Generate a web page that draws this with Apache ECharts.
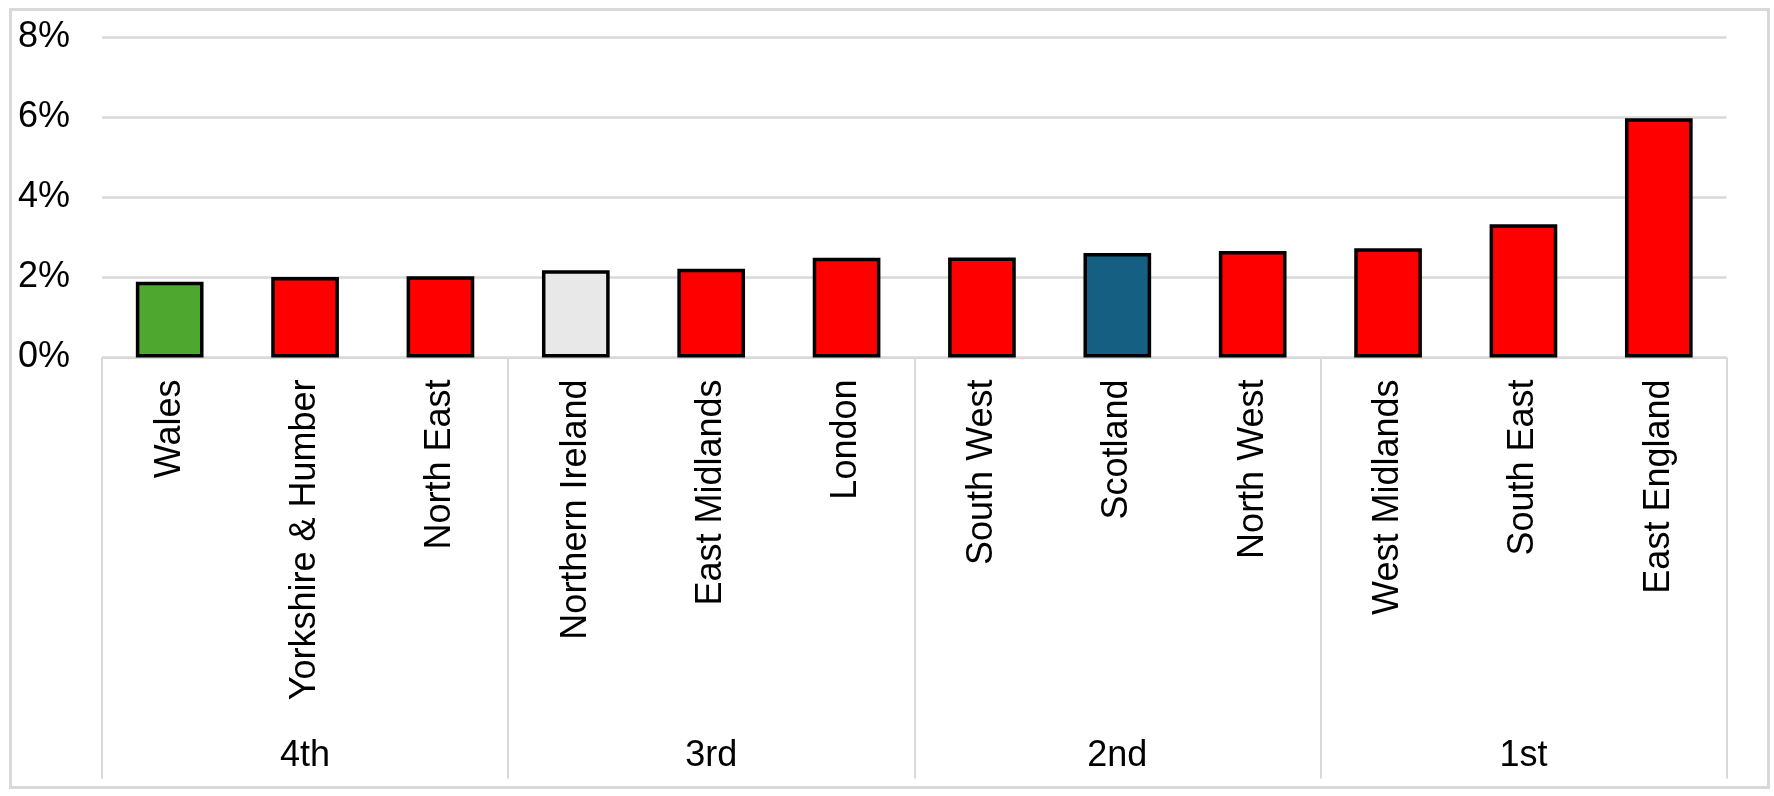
<!DOCTYPE html>
<html>
<head>
<meta charset="utf-8">
<script src="https://cdn.jsdelivr.net/npm/echarts@6/dist/echarts.min.js"></script>
<style>
html,body{margin:0;padding:0;background:#fff;}
#c{width:1774px;height:796px;}
</style>
</head>
<body>
<div id="c"></div>
<script>
// ---- data ----
var regions = ['Wales','Yorkshire & Humber','North East','Northern Ireland','East Midlands','London','South West','Scotland','North West','West Midlands','South East','East England'];
var values = [1.89, 2.01, 2.03, 2.18, 2.22, 2.49, 2.50, 2.61, 2.66, 2.73, 3.33, 5.98];
var groups = ['4th','3rd','2nd','1st'];
var yTicks = [0, 2, 4, 6, 8];
// ---- styles ----
var barColors = ['#4EA72E','#FF0000','#FF0000','#E8E8E8','#FF0000','#FF0000','#FF0000','#156082','#FF0000','#FF0000','#FF0000','#FF0000'];

var FONT = 'Liberation Sans, Arial, sans-serif';
var chart = echarts.init(document.getElementById('c'), null, {renderer:'canvas'});
chart.setOption({
  animation: false,
  backgroundColor: '#fff',
  textStyle: {fontFamily: FONT},
  graphic: [{
    type: 'rect', left: 8, top: 7, silent: true, z: -1,
    shape: {x: 0, y: 0, width: 1758, height: 778},
    style: {fill: 'none', stroke: '#d9d9d9', lineWidth: 3}
  }],
  grid: {left: 102, right: 47.5, top: 37.3, bottom: 438.5, containLabel: false},
  xAxis: [{
    type: 'category',
    data: regions,
    position: 'bottom',
    axisLine: {show: true, lineStyle: {color: '#d9d9d9', width: 2}},
    axisTick: {show: false},
    axisLabel: {rotate: 90, margin: 22, fontSize: 36, color: '#000', fontFamily: FONT, interval: 0}
  }, {
    type: 'category',
    data: groups,
    position: 'bottom',
    axisLine: {show: false},
    axisTick: {show: true, length: 421, lineStyle: {color: '#d9d9d9', width: 2}},
    axisLabel: {margin: 381, fontSize: 36, color: '#000', fontFamily: FONT, interval: 0}
  }],
  yAxis: {
    type: 'value',
    min: yTicks[0], max: yTicks[yTicks.length - 1], interval: yTicks[1] - yTicks[0],
    axisLine: {show: false},
    axisTick: {show: false},
    axisLabel: {formatter: '{value}%', fontSize: 36, color: '#000', margin: 32, fontFamily: FONT},
    splitLine: {show: true, lineStyle: {color: '#d9d9d9', width: 2.5}}
  },
  series: [{
    type: 'bar',
    xAxisIndex: 0,
    barWidth: '50%',
    data: values.map(function (v, i) {
      return {value: v, itemStyle: {color: barColors[i], borderColor: '#000', borderWidth: 3.5}};
    })
  }]
});
</script>
</body>
</html>
